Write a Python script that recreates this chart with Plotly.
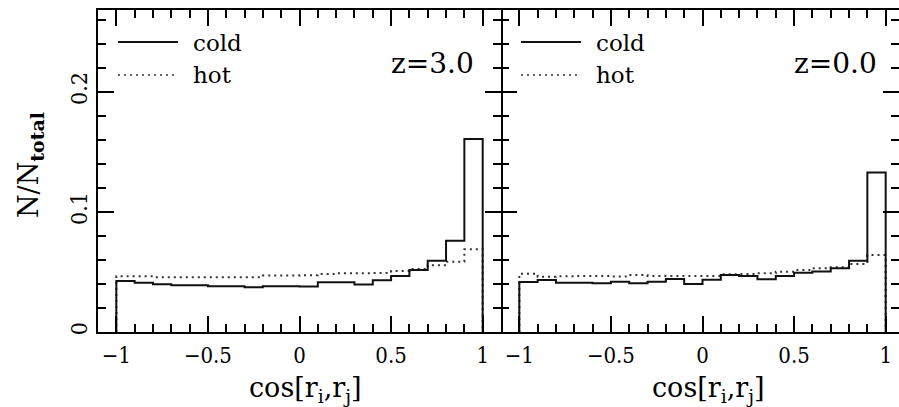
import numpy as np
import plotly.graph_objects as go
from plotly.subplots import make_subplots

# Histogram bin edges in cos[r_i, r_j] (20 bins of width 0.1)
bin_edges = np.round(np.linspace(-1.0, 1.0, 21), 2)

# Fractions per bin, z = 3.0
cold_z3 = [0.0425, 0.0411, 0.0397, 0.0389, 0.0389, 0.0381, 0.0381, 0.0373, 0.0381, 0.0381,
           0.0380, 0.0415, 0.0415, 0.0396, 0.0431, 0.0467, 0.0517, 0.0593, 0.0761, 0.1608]
hot_z3 = [0.0464, 0.0464, 0.0457, 0.0457, 0.0457, 0.0457, 0.0457, 0.0457, 0.0470, 0.0470,
          0.0472, 0.0483, 0.0489, 0.0490, 0.0492, 0.0508, 0.0525, 0.0556, 0.0586, 0.0690]

# Fractions per bin, z = 0.0
cold_z0 = [0.0416, 0.0433, 0.0411, 0.0411, 0.0406, 0.0419, 0.0406, 0.0418, 0.0441, 0.0400,
           0.0436, 0.0475, 0.0467, 0.0439, 0.0467, 0.0493, 0.0505, 0.0531, 0.0593, 0.1330]
hot_z0 = [0.0486, 0.0461, 0.0465, 0.0467, 0.0467, 0.0463, 0.0475, 0.0467, 0.0467, 0.0467,
          0.0467, 0.0481, 0.0483, 0.0489, 0.0503, 0.0517, 0.0531, 0.0539, 0.0567, 0.0641]

panel_labels = ["z=3.0", "z=0.0"]
series_names = ["cold", "hot"]
x_ticks = [-1, -0.5, 0, 0.5, 1]
x_ticktext = ["\u22121", "\u22120.5", "0", "0.5", "1"]
y_ticks = [0, 0.1, 0.2]
y_ticktext = ["0", "0.1", "0.2"]

W, H = 899, 407
L, R, T, B = 98, 0, 10, 75
split_px = 501  # shared border between the two panels
plot_w = W - L - R
plot_h = H - T - B

SERIF = "DejaVu Serif, Liberation Serif, serif"
TICKFONT = "DejaVu Serif Condensed, DejaVu Serif, serif"


def step_path(edges, vals):
    """Closed histogram outline: rise at the first edge, drop at the last."""
    xs = [edges[0]] + list(edges[:-1]) + [edges[-1]]
    ys = [0.0] + list(vals) + [0.0]
    return xs, ys


def px_x(px):
    return (px - L) / plot_w


def px_y(py):
    return (H - B - py) / plot_h


fig = make_subplots(rows=1, cols=2, shared_yaxes=True, horizontal_spacing=0)

solid = dict(color="#111111", width=2)
dotted = dict(color="#333333", width=2, dash="2px,4px")

for col, (cold, hot) in enumerate([(cold_z3, hot_z3), (cold_z0, hot_z0)], start=1):
    xs, ys = step_path(bin_edges, hot)
    fig.add_trace(go.Scatter(x=xs, y=ys, mode="lines", line_shape="hv", line=dotted,
                             name=series_names[1], showlegend=False), row=1, col=col)
    xs, ys = step_path(bin_edges, cold)
    fig.add_trace(go.Scatter(x=xs, y=ys, mode="lines", line_shape="hv", line=solid,
                             name=series_names[0], showlegend=False), row=1, col=col)

split = (split_px - L) / plot_w
left_scale = (split_px - L) / 2.2          # px per unit in the left panel
right_max = -1.1 + (W - split_px) / left_scale

axis_common = dict(
    showline=True, linecolor="black", linewidth=2, mirror="ticks",
    ticks="inside", ticklen=16, tickwidth=2, tickcolor="black",
    showgrid=False, zeroline=False,
)

fig.update_xaxes(**axis_common, tickvals=x_ticks, ticktext=x_ticktext,
                 minor=dict(ticks="inside", ticklen=8, tickwidth=2, tickcolor="black",
                            dtick=0.1, tick0=0, showgrid=False),
                 tickfont=dict(family=TICKFONT, size=22, color="black"),
                 ticklabelstandoff=3)
fig.update_xaxes(domain=[0, split], range=[-1.1, 1.1], row=1, col=1)
fig.update_xaxes(domain=[split, 1], range=[-1.1, right_max], row=1, col=2)

fig.update_yaxes(**axis_common, range=[0, 0.2683], tickvals=y_ticks, ticktext=y_ticktext,
                 minor=dict(ticks="inside", ticklen=8, tickwidth=2, tickcolor="black",
                            dtick=0.02, tick0=0, showgrid=False),
                 tickfont=dict(family=TICKFONT, size=23, color="black"),
                 tickangle=-90, ticklabelstandoff=0)
# the shared border is already drawn by the left panel's mirrored line
fig.update_yaxes(showticklabels=False, showline=False, row=1, col=2)

# Legend samples and panel labels
shapes = []
annotations = []
for i, x0 in enumerate([L, split_px]):
    shapes.append(dict(type="line", xref="paper", yref="paper",
                       x0=px_x(x0 + 20), x1=px_x(x0 + 80), y0=px_y(42), y1=px_y(42),
                       line=solid))
    shapes.append(dict(type="line", xref="paper", yref="paper",
                       x0=px_x(x0 + 20), x1=px_x(x0 + 80), y0=px_y(75), y1=px_y(75),
                       line=dict(color="#333333", width=1.5, dash="2px,4px")))
    annotations.append(dict(text=series_names[0], xref="paper", yref="paper",
                            x=px_x(x0 + 93), y=px_y(43), xanchor="left", yanchor="middle",
                            showarrow=False, font=dict(family=SERIF, size=23, color="black")))
    annotations.append(dict(text=series_names[1], xref="paper", yref="paper",
                            x=px_x(x0 + 93), y=px_y(75), xanchor="left", yanchor="middle",
                            showarrow=False, font=dict(family=SERIF, size=23, color="black")))
    annotations.append(dict(text=panel_labels[i], xref="paper", yref="paper",
                            x=px_x(x0 + 378), y=px_y(63), xanchor="right", yanchor="middle",
                            showarrow=False, font=dict(family=SERIF, size=28, color="black")))
    annotations.append(dict(text="cos[r<sub>i</sub>,r<sub>j</sub>]", xref="paper", yref="paper",
                            x=px_x(x0 + 207), y=px_y(389), xanchor="center", yanchor="middle",
                            showarrow=False, font=dict(family=SERIF, size=27, color="black")))

annotations.append(dict(text="N/N<sub><b>total</b></sub>", xref="paper", yref="paper",
                        x=px_x(30), y=px_y(165), xanchor="center", yanchor="middle",
                        textangle=-90, showarrow=False,
                        font=dict(family=SERIF, size=27, color="black")))

fig.update_layout(
    width=W, height=H,
    margin=dict(l=L, r=R, t=T, b=B, autoexpand=False),
    paper_bgcolor="white", plot_bgcolor="white",
    shapes=shapes, annotations=annotations,
    showlegend=False,
)

fig.write_html("out.html")
